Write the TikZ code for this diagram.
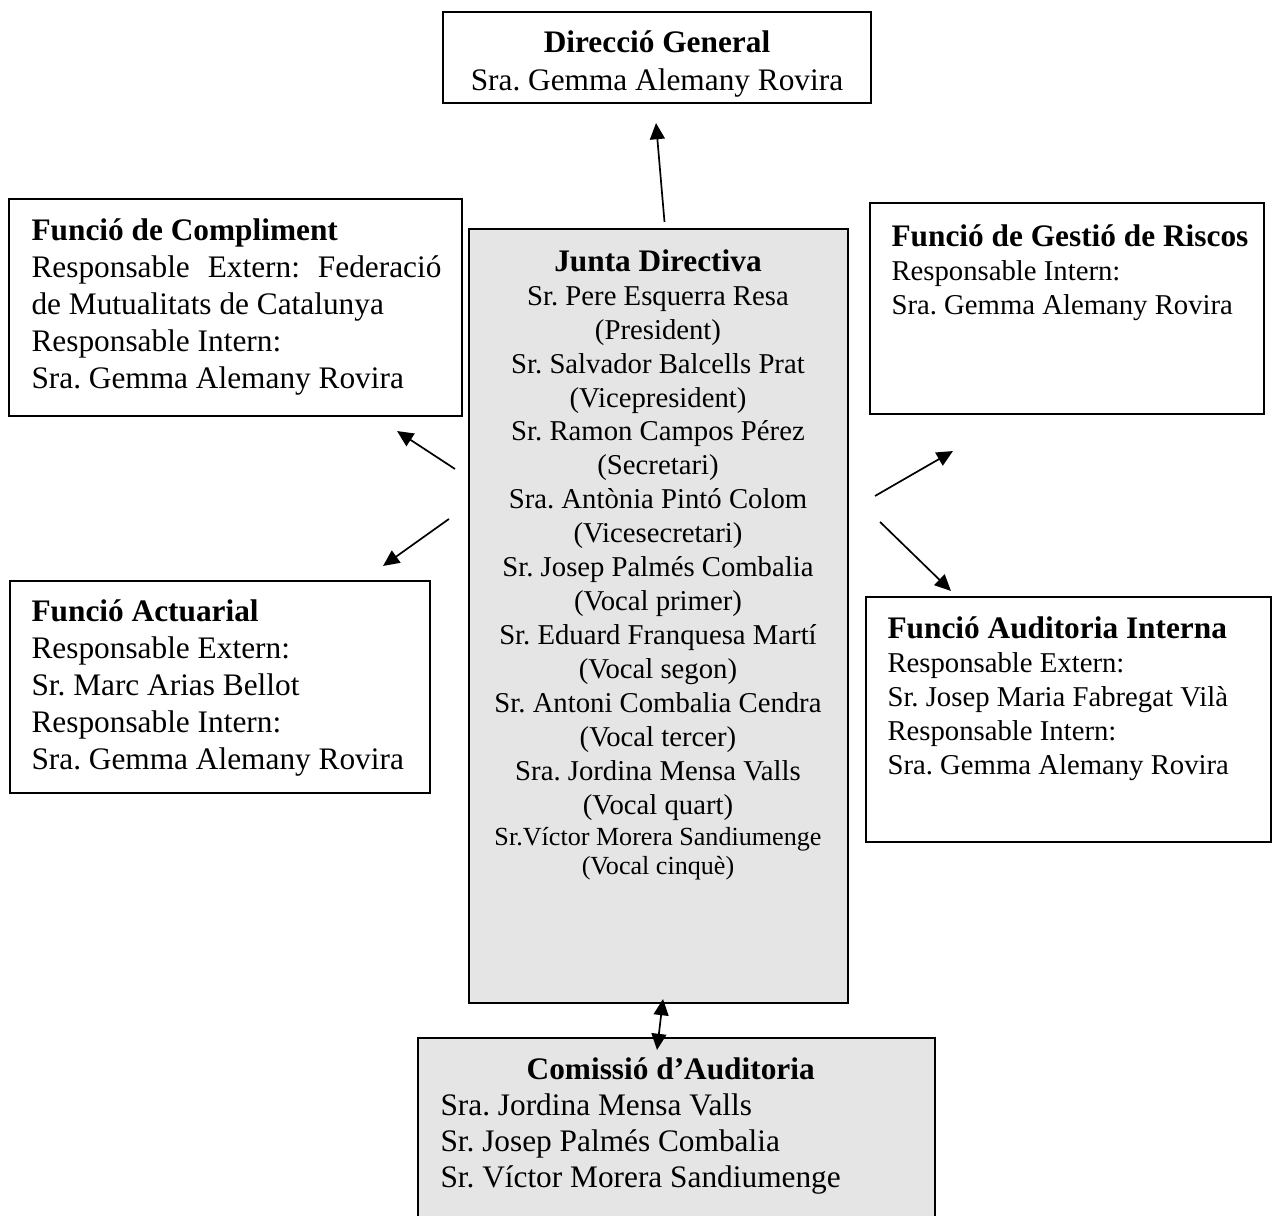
\documentclass[tikz,border=0pt]{standalone}
\usepackage{fontspec}
\setmainfont{Liberation Serif}
\frenchspacing
\usetikzlibrary{positioning,arrows.meta,fit}
\tikzset{
  linkarrow/.style={-{Triangle[length=6.2pt, width=5.7pt]}, line width=0.65pt},
  bothlink/.style={{Triangle[length=6.2pt, width=5.7pt]}-{Triangle[length=6.2pt, width=5.7pt]}, line width=0.65pt},
  orgbox/.style={draw, line width=0.8pt, inner sep=0pt},
  greybox/.style={orgbox, fill=black!10},
  bodytext/.style={inner sep=0pt, align=left, font=\fontsize{12}{14.2}\selectfont},
  smalltext/.style={inner sep=0pt, align=left, font=\fontsize{11}{13}\selectfont}
}

\begin{document}
\begin{tikzpicture}[x=0.383pt, y=-0.383pt]
  \useasboundingbox (0,0) rectangle (1272,1216);
  % boxes
  \node[orgbox, fit={(443,12) (871,103)}] (dirgen) {};
  \node[orgbox, fit={(9,199) (462,416)}] (compliment) {};
  \node[greybox, fit={(469,229) (848,1003)}] (junta) {};
  \node[orgbox, fit={(870,203) (1264,414)}] (riscos) {};
  \node[orgbox, fit={(10,581) (430,793)}] (actuarial) {};
  \node[orgbox, fit={(866,597) (1271,842)}] (auditint) {};
  \node[greybox, fit={(418,1038) (935,1230)}] (comissio) {};
  % texts
  \node[bodytext, align=center, anchor=north, font=\fontsize{12}{14.5}\selectfont] (dirgen-txt) at (657,30)
    {\textbf{Direcció General}\\ Sra. Gemma Alemany Rovira};
  \node[bodytext, anchor=north west] (compliment-txt) at (31,218)
    {\textbf{Funció de Compliment}\\ \makebox[157pt][s]{Responsable Extern: Federació}\\ de Mutualitats de Catalunya\\ Responsable Intern:\\ Sra. Gemma Alemany Rovira};
  \node[inner sep=0pt, align=center, anchor=north, font=\fontsize{11}{13}\selectfont] (junta-txt) at (658,249)
    {\textbf{\fontsize{12}{13}\selectfont Junta Directiva}\\ Sr. Pere Esquerra Resa\\ (President)\\ Sr. Salvador Balcells Prat\\ (Vicepresident)\\
     Sr. Ramon Campos Pérez\\ (Secretari)\\ Sra. Antònia Pintó Colom\\ (Vicesecretari)\\ Sr. Josep Palmés Combalia\\ (Vocal primer)\\
     Sr. Eduard Franquesa Martí\\ (Vocal segon)\\ Sr. Antoni Combalia Cendra\\ (Vocal tercer)\\ Sra. Jordina Mensa Valls\\ (Vocal quart)\\[-1pt]
     {\fontsize{10}{12}\selectfont Sr.Víctor Morera Sandiumenge}\\[-1.8pt] {\fontsize{10}{12}\selectfont (Vocal cinquè)}};
  \node[smalltext, anchor=north west] (riscos-txt) at (891,224)
    {\textbf{\fontsize{12}{13}\selectfont Funció de Gestió de Riscos}\\ Responsable Intern:\\ Sra. Gemma Alemany Rovira};
  \node[bodytext, anchor=north west] (actuarial-txt) at (31,599)
    {\textbf{Funció Actuarial}\\ Responsable Extern:\\ Sr. Marc Arias Bellot\\ Responsable Intern:\\ Sra. Gemma Alemany Rovira};
  \node[smalltext, anchor=north west] (auditint-txt) at (887,616)
    {\textbf{\fontsize{12}{13}\selectfont Funció Auditoria Interna}\\ Responsable Extern:\\ Sr. Josep Maria Fabregat Vilà\\ Responsable Intern:\\ Sra. Gemma Alemany Rovira};
  \node[bodytext, anchor=north west, font=\fontsize{12}{13.8}\selectfont] (comissio-txt) at (440,1057)
    {\hspace*{33pt}\textbf{Comissió d’Auditoria}\\ Sra. Jordina Mensa Valls\\ Sr. Josep Palmés Combalia\\ Sr. Víctor Morera Sandiumenge};
  % connectors
  \draw[linkarrow] ([shift={(6,-6)}]junta.north) -- ([shift={(-1,19)}]dirgen.south);
  \draw[linkarrow] ([shift={(-13,241)}]junta.north west) -- ([shift={(-66,14)}]compliment.south east);
  \draw[linkarrow] ([shift={(-19,291)}]junta.north west) -- ([shift={(-48,-14)}]actuarial.north east);
  \draw[linkarrow] ([shift={(26,268)}]junta.north east) -- ([shift={(84,36)}]riscos.south west);
  \draw[linkarrow] ([shift={(31,294)}]junta.north east) -- ([shift={(86,-5)}]auditint.north west);
  \draw[bothlink] ([shift={(4.5,-5)}]junta.south) -- ([shift={(-19.5,13)}]comissio.north);
\end{tikzpicture}
\end{document}
